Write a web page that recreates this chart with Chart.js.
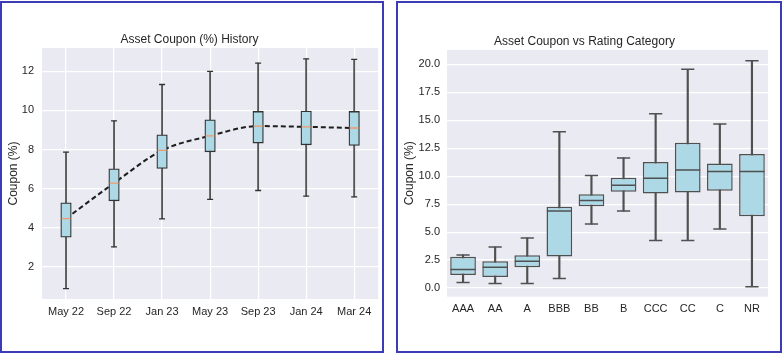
<!DOCTYPE html>
<html>
<head>
<meta charset="utf-8">
<script src="https://cdn.jsdelivr.net/npm/chart.js@4"></script>
<style>
  body { margin: 0; background: #fff; width: 782px; height: 354px; position: relative; overflow: hidden; }
  canvas { position: absolute; top: 0; }
  .frame { position: absolute; border: 2px solid #3c3cb6; box-sizing: border-box; pointer-events: none; }
</style>
</head>
<body>
<canvas id="histChart" width="384" height="354" style="left:0"></canvas>
<canvas id="ratingChart" width="390" height="354" style="left:392px"></canvas>
<div class="frame" style="left:0;top:1px;width:384px;height:352px"></div>
<div class="frame" style="left:396px;top:1px;width:386px;height:352px"></div>
<script>
// left panel: coupon history
const months = ["May 22", "Sep 22", "Jan 23", "May 23", "Sep 23", "Jan 24", "Mar 24"];
const histMin = [0.87, 3.01, 4.45, 5.44, 5.90, 5.61, 5.57];
const histQ1 = [3.51, 5.37, 7.03, 7.88, 8.33, 8.24, 8.21];
const histMed = [4.46, 6.28, 7.95, 8.70, 9.20, 9.16, 9.10];
const histQ3 = [5.27, 7.01, 8.75, 9.52, 9.95, 9.97, 9.95];
const histMax = [7.87, 9.47, 11.33, 12.00, 12.43, 12.64, 12.62];
const histTicks = [2, 4, 6, 8, 10, 12];

// right panel: coupon by rating
const ratings = ["AAA", "AA", "A", "BBB", "BB", "B", "CCC", "CC", "C", "NR"];
const rateMin = [0.50, 0.42, 0.42, 0.86, 5.72, 6.88, 4.24, 4.24, 5.28, 0.12];
const rateQ1 = [1.16, 0.98, 1.87, 2.82, 7.32, 8.60, 8.45, 8.54, 8.69, 6.41];
const rateMed = [1.66, 1.87, 2.40, 6.88, 7.83, 9.19, 9.82, 10.56, 10.41, 10.41];
const rateQ3 = [2.80, 2.40, 2.94, 7.27, 8.39, 9.85, 11.27, 12.99, 11.12, 11.98];
const rateMax = [2.96, 3.67, 4.48, 13.97, 10.05, 11.63, 15.57, 19.55, 14.65, 20.31];
const rateTicks = [0, 2.5, 5, 7.5, 10, 12.5, 15, 17.5, 20];

const FONT = "'Liberation Sans', Arial, sans-serif";
const TEXT = "#262626";
Chart.defaults.font.family = FONT;
Chart.defaults.color = TEXT;

const plotBg = {
  id: "plotBg",
  beforeDraw(chart) {
    const { ctx, chartArea: a } = chart;
    ctx.save();
    ctx.fillStyle = "#eaeaf2";
    ctx.fillRect(a.left, a.top, a.width, a.height);
    ctx.restore();
  }
};

function pairs(lo, hi) {
  return lo.map((v, i) => [v, hi[i]]);
}

function tickMark(data, color, radius, width, order) {
  return {
    type: "line", data, showLine: false, order,
    pointStyle: "line", pointRadius: radius, pointHoverRadius: radius,
    pointBorderColor: color, pointBorderWidth: width, borderColor: color
  };
}

function makeOptions(title, titlePad, yMin, yMax, ticks, yWidth, xHeight, xGrid, fmt, xPad, yPad) {
  return {
    responsive: false,
    animation: false,
    devicePixelRatio: 1,
    layout: { padding: { left: 0, right: 5, top: 0, bottom: 0 } },
    plugins: {
      legend: { display: false },
      tooltip: { enabled: false },
      title: { display: true, text: title, color: TEXT, font: { size: 12, weight: "normal" }, padding: titlePad }
    },
    scales: {
      x: {
        offset: true,
        grid: { display: xGrid, offset: false, color: "#ffffff", lineWidth: 1.2, drawTicks: false },
        border: { display: false },
        ticks: { font: { size: 11 }, color: TEXT, padding: xPad, maxRotation: 0 },
        afterFit(s) { s.height = xHeight; }
      },
      y: {
        min: yMin, max: yMax,
        grid: { color: "#ffffff", lineWidth: 1.2, drawTicks: false },
        border: { display: false },
        ticks: { font: { size: 11 }, color: TEXT, padding: yPad, callback: fmt },
        title: { display: true, text: "Coupon (%)", color: TEXT, font: { size: 12 }, padding: { top: yWidth > 45 ? 10 : 6, bottom: 0 } },
        afterBuildTicks(s) { s.ticks = ticks.map(v => ({ value: v })); },
        afterFit(s) { s.width = yWidth; }
      }
    }
  };
}

new Chart(document.getElementById("histChart"), {
  type: "bar",
  data: {
    labels: months,
    datasets: [
      { type: "line", data: histMed, order: 9, borderColor: "#1e1e1e", borderWidth: 2, borderDash: [5, 3],
        pointRadius: 0, cubicInterpolationMode: "monotone", fill: false },
      { data: pairs(histMin, histMax), order: 8, grouped: false, barThickness: 1.2, backgroundColor: "#555555", borderWidth: 0 },
      { data: pairs(histQ1, histQ3), order: 7, grouped: false, barThickness: 10.5, backgroundColor: "#add8e6",
        borderColor: "#333333", borderWidth: 1.3, borderSkipped: false },
      tickMark(histMin, "#333333", 3, 1.3, 6),
      tickMark(histMax, "#333333", 3, 1.3, 5),
      tickMark(histMed, "#ee9a6a", 4.5, 1.3, 4)
    ]
  },
  options: makeOptions("Asset Coupon (%) History", { top: 32, bottom: 1.6 }, 0.34, 13.2, histTicks,
    42, 55, true, v => String(v), 6.4, 8),
  plugins: [plotBg]
});

new Chart(document.getElementById("ratingChart"), {
  type: "bar",
  data: {
    labels: ratings,
    datasets: [
      { data: pairs(rateMin, rateMax), order: 8, grouped: false, barThickness: 1.5, backgroundColor: "#505050", borderWidth: 0 },
      { data: pairs(rateQ1, rateQ3), order: 7, grouped: false, categoryPercentage: 1, barPercentage: 0.8,
        backgroundColor: "#add8e6", borderColor: "#505050", borderWidth: 1.5, borderSkipped: false },
      tickMark(rateMin, "#505050", 6.6, 1.5, 6),
      tickMark(rateMax, "#505050", 6.6, 1.5, 5),
      tickMark(rateMed, "#505050", 12.5, 1.5, 4)
    ]
  },
  options: makeOptions("Asset Coupon vs Rating Category", { top: 34.5, bottom: 1.1 }, -0.77, 21.27, rateTicks,
    55, 57.3, false, v => Number(v).toFixed(1), 6, 7),
  plugins: [plotBg]
});
</script>
</body>
</html>
